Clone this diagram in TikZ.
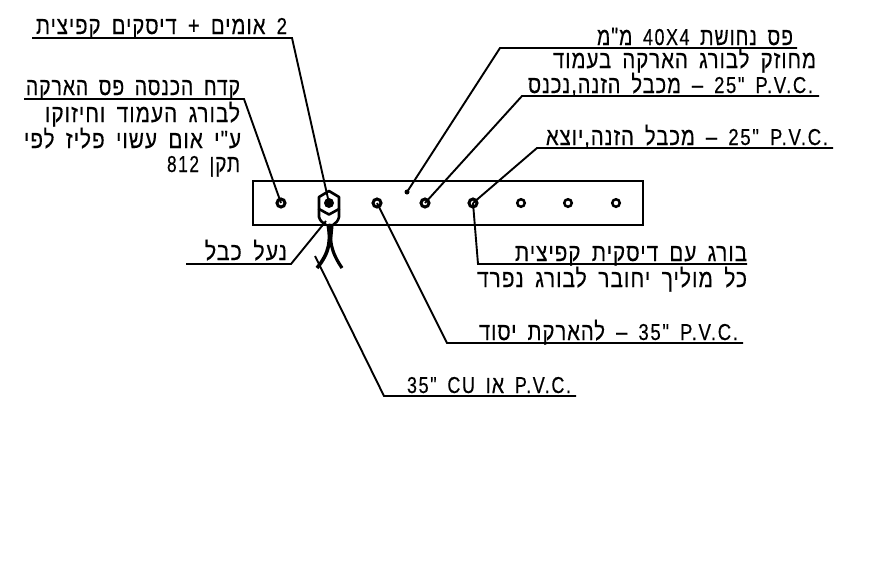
\documentclass[tikz,border=0pt]{standalone}
\usepackage{fontspec}
\usepackage{graphicx}
\TeXXeTstate=1
\newfontfamily\hebfont[Script=Hebrew,FakeBold=0.4,LetterSpace=5]{Liberation Sans}
\newfontfamily\latfont[FakeBold=0.4,LetterSpace=9]{Liberation Sans}
\newcommand{\fit}[2]{\resizebox{#1pt}{\height}{\fontsize{25pt}{28pt}\hebfont\spaceskip=.55em\relax #2}}
\newcommand{\lat}[1]{\beginL{\fontsize{23pt}{28pt}\latfont #1}\endL{}}
\tikzset{
  lbl/.style={inner sep=0pt,outer sep=0pt,anchor=base east,text=black},
  leader/.style={line width=1.9pt,line join=miter},
  barbox/.style={draw,line width=2.8pt,minimum width=390pt,minimum height=44pt,inner sep=0pt,outer sep=0pt},
  bolthole/.style={circle,draw,line width=2.5pt,minimum size=7.5pt,inner sep=0pt,outer sep=0pt},
  usedbolt/.style={circle,draw,line width=3pt,minimum size=8pt,inner sep=0pt,outer sep=0pt},
}
\begin{document}
\begin{tikzpicture}[x=1pt,y=-1pt]
\useasboundingbox (0,0) rectangle (869,579);
% bar and bolts
\node[barbox] (bar) at (448,203) {};
\node[usedbolt] (b1) at (281,203) {};
\node[usedbolt] (b3) at (377,203) {};
\node[usedbolt] (b4) at (425,203) {};
\node[usedbolt] (b5) at (473,203) {};
\node[bolthole] (b6) at (521,203) {};
\node[bolthole] (b7) at (568,203) {};
\node[bolthole] (b8) at (616,203) {};
\node[circle,fill,minimum size=5pt,inner sep=0pt] (pin) at (407,192) {};
% nut and lug
\coordinate (nut) at (329,203);
\draw[line width=2.6pt,line join=round,fill=white] (329,191) -- (339,197) -- (339,209) -- (329,214.5) -- (319,209) -- (319,197) -- cycle;
\draw[line width=2.6pt] (319,209) -- (319,217) .. controls (320,221) and (323,223) .. (326,225);
\draw[line width=2.6pt] (339,209) -- (339,217) .. controls (338,221) and (336,223) .. (333,225);
\coordinate (lug) at (326,221);
% cable
\draw[line width=3.6pt] (328,224) .. controls (331,240) and (330,252) .. (317,268);
\draw[line width=3.2pt] (331,224) .. controls (329,240) and (331,252) .. (342,268);
\draw[line width=3.4pt] (332,224) -- (330,245);
% shelves
\coordinate (s1a) at (32,38);  \coordinate (s1b) at (292,38);
\coordinate (s2a) at (24,99);  \coordinate (s2b) at (244,99);
\coordinate (s3a) at (797,48); \coordinate (s3b) at (500,48);
\coordinate (s4a) at (819,96); \coordinate (s4b) at (522,96);
\coordinate (s5a) at (833,148);\coordinate (s5b) at (537,148);
\coordinate (s6a) at (747,264);\coordinate (s6b) at (478,264);
\coordinate (s7a) at (743,343);\coordinate (s7b) at (447,343);
\coordinate (s8a) at (576,396);\coordinate (s8b) at (384,396);
\coordinate (s9a) at (186,264);\coordinate (s9b) at (291,264);
\coordinate (cab) at (315,256);
\draw[leader] (s1a) -- (s1b) -- (nut);
\draw[leader] (s2a) -- (s2b) -- (b1.center);
\draw[leader] (s3a) -- (s3b) -- (pin.center);
\draw[leader] (s4a) -- (s4b) -- (b4.center);
\draw[leader] (s5a) -- (s5b) -- (b5.center);
\draw[leader] (s6a) -- (s6b) -- (b5.center);
\draw[leader] (s7a) -- (s7b) -- (b3.center);
\draw[leader] (s8a) -- (s8b) -- (cab);
\draw[leader] (s9a) -- (s9b) -- (lug);
\node[circle,fill,minimum size=10pt,inner sep=0pt] (nutdot) at (nut) {};
% texts
\node[lbl] (t1) at (287,34) {\fit{251}{\beginR \lat{2} אומים + דיסקים קפיצית\endR}};
\node[lbl] (t2) at (240,95) {\fit{214}{\beginR קדח הכנסה פס הארקה\endR}};
\node[lbl] (t3) at (240,122) {\fit{195}{\beginR לבורג העמוד וחיזוקו\endR}};
\node[lbl] (t4) at (241,148) {\fit{217}{\beginR ע"י אום עשוי פליז לפי\endR}};
\node[lbl] (t5) at (240,172) {\fit{73}{\beginR תקן \lat{812}\endR}};
\node[lbl] (t6) at (793,45) {\fit{196}{\beginR פס נחושת \lat{40X4} מ"מ\endR}};
\node[lbl] (t7) at (816,68) {\fit{263}{\beginR מחוזק לבורג הארקה בעמוד\endR}};
\node[lbl] (t8) at (813,93) {\fit{285}{\beginR \lat{P.V.C.} \lat{25"} – מכבל הזנה,נכנס\endR}};
\node[lbl] (t9) at (828,145) {\fit{282}{\beginR \lat{P.V.C.} \lat{25"} – מכבל הזנה,יוצא\endR}};
\node[lbl] (t10) at (747,261) {\fit{232}{\beginR בורג עם דיסקית קפיצית\endR}};
\node[lbl] (t11) at (747,287) {\fit{270}{\beginR כל מוליך יחובר לבורג נפרד\endR}};
\node[lbl] (t12) at (738,340) {\fit{259}{\beginR \lat{P.V.C.} \lat{35"} – להארקת יסוד\endR}};
\node[lbl] (t13) at (571,393) {\fit{164}{\beginR \lat{P.V.C.} או \lat{35" CU}\endR}};
\node[lbl] (t14) at (287,260) {\fit{82}{\beginR נעל כבל\endR}};
\end{tikzpicture}
\end{document}
